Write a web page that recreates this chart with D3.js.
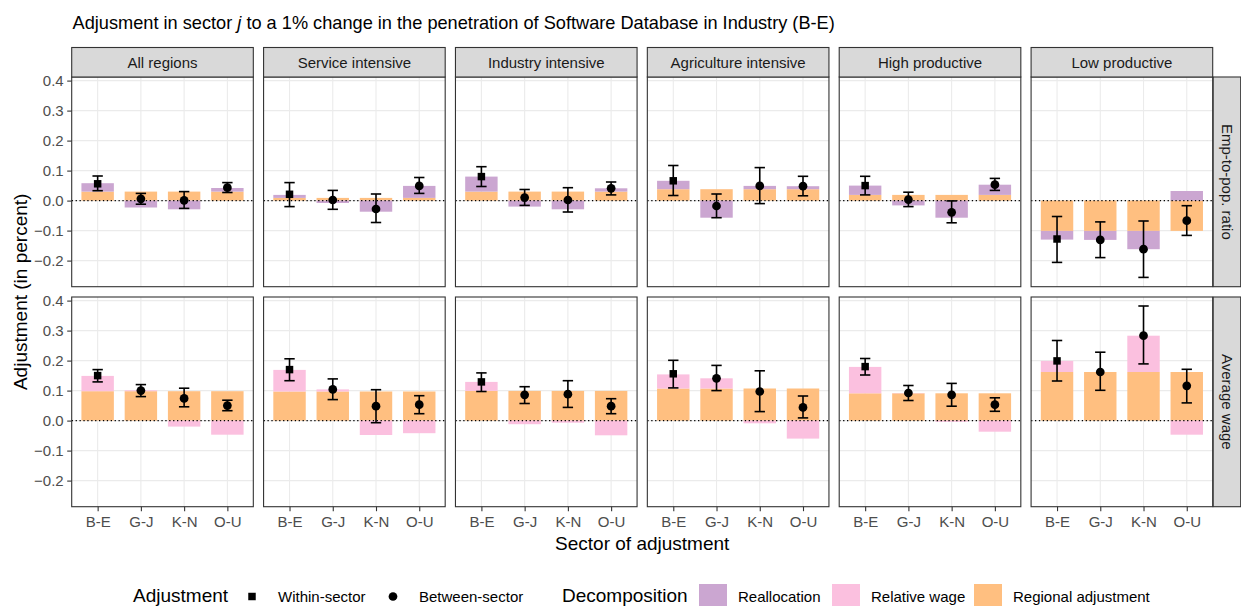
<!DOCTYPE html>
<html>
<head>
<meta charset="utf-8">
<script src="https://cdn.jsdelivr.net/npm/d3@7"></script>
<style>
  body { margin: 0; background: #fff; }
  svg { font-family: "Liberation Sans", Arial, sans-serif; }
</style>
</head>
<body>
<svg></svg>
<script>
// chart data
const regions = ['All regions', 'Service intensive', 'Industry intensive',
                 'Agriculture intensive', 'High productive', 'Low productive'];
const sectors = ['B-E', 'G-J', 'K-N', 'O-U'];
const measures = ['Emp-to-pop. ratio', 'Average wage'];
const yTicks = [-0.2, -0.1, 0.0, 0.1, 0.2, 0.3, 0.4];

// regional adjustment (same for every sector inside a region)
const empRegional = [0.030, 0.009, 0.030, 0.038, 0.019, -0.101];
const wageRegional = [0.098, 0.097, 0.099, 0.107, 0.091, 0.162];

// reallocation part (employment row)
const empRealloc = [
  [0.028, -0.023, -0.029, 0.012],
  [0.010, -0.008, -0.037, 0.040],
  [0.050, -0.020, -0.029, 0.011],
  [0.028, -0.057, 0.011, 0.010],
  [0.031, -0.016, -0.057, 0.034],
  [-0.029, -0.030, -0.061, 0.032]
];
// relative wage part (wage row)
const wageRelWage = [
  [0.051, 0.003, -0.020, -0.047],
  [0.072, 0.007, -0.048, -0.042],
  [0.030, -0.012, -0.007, -0.049],
  [0.047, 0.034, -0.009, -0.060],
  [0.088, 0.001, -0.004, -0.037],
  [0.037, 0.000, 0.121, -0.047]
];

// point estimates with confidence bounds
const empPoint = [
  [0.056, 0.006, 0.001, 0.043],
  [0.021, 0.002, -0.028, 0.049],
  [0.080, 0.010, 0.002, 0.041],
  [0.066, -0.018, 0.049, 0.048],
  [0.050, 0.003, -0.039, 0.053],
  [-0.128, -0.131, -0.162, -0.067]
];
const empLo = [
  [0.033, -0.012, -0.026, 0.027],
  [-0.020, -0.029, -0.073, 0.024],
  [0.047, -0.016, -0.038, 0.019],
  [0.017, -0.057, -0.010, 0.016],
  [0.019, -0.020, -0.074, 0.034],
  [-0.206, -0.190, -0.256, -0.116]
];
const empHi = [
  [0.082, 0.024, 0.030, 0.060],
  [0.060, 0.034, 0.022, 0.077],
  [0.113, 0.037, 0.043, 0.062],
  [0.117, 0.022, 0.110, 0.081],
  [0.081, 0.028, -0.001, 0.074],
  [-0.053, -0.071, -0.068, -0.017]
];
const wagePoint = [
  [0.150, 0.100, 0.074, 0.050],
  [0.170, 0.104, 0.048, 0.053],
  [0.129, 0.086, 0.088, 0.048],
  [0.156, 0.141, 0.097, 0.044],
  [0.180, 0.092, 0.086, 0.053],
  [0.199, 0.162, 0.283, 0.116]
];
const wageLo = [
  [0.129, 0.080, 0.046, 0.033],
  [0.133, 0.070, -0.007, 0.023],
  [0.097, 0.057, 0.044, 0.023],
  [0.109, 0.100, 0.030, 0.009],
  [0.152, 0.067, 0.048, 0.031],
  [0.132, 0.101, 0.189, 0.059]
];
const wageHi = [
  [0.170, 0.120, 0.108, 0.068],
  [0.206, 0.139, 0.103, 0.083],
  [0.159, 0.113, 0.133, 0.073],
  [0.201, 0.184, 0.166, 0.082],
  [0.207, 0.117, 0.124, 0.076],
  [0.267, 0.228, 0.382, 0.171]
];

const adjTypes = ['Within-sector', 'Between-sector'];
const decompNames = ['Reallocation', 'Relative wage', 'Regional adjustment'];
const decompColors = ['#CBA6D1', '#FBC0DF', '#FFBF80'];

// layout
const W = 1241, H = 606;
const panels = {l: 71.7, r: 1212.7, rowTop: [77, 297], h: 209.7};
const stripH = 29.5, stripW = 27.5;
const smallFont = 15, bigFont = 19;

const svg = d3.select('svg').attr('width', W).attr('height', H);

// build long tables from the arrays
let bars = [];
let points = [];
regions.forEach(function(reg, ri) {
  sectors.forEach(function(sec, si) {
    bars.push({row: 0, reg: ri, sec: sec, comp: 2, v: empRegional[ri]});
    bars.push({row: 0, reg: ri, sec: sec, comp: 0, v: empRealloc[ri][si]});
    bars.push({row: 1, reg: ri, sec: sec, comp: 2, v: wageRegional[ri]});
    bars.push({row: 1, reg: ri, sec: sec, comp: 1, v: wageRelWage[ri][si]});
    let type = si === 0 ? 0 : 1;  // B-E is the within-sector effect
    points.push({row: 0, reg: ri, sec: sec, type: type,
      v: empPoint[ri][si], lo: empLo[ri][si], hi: empHi[ri][si]});
    points.push({row: 1, reg: ri, sec: sec, type: type,
      v: wagePoint[ri][si], lo: wageLo[ri][si], hi: wageHi[ri][si]});
  });
});

// stack positive and negative parts separately, regional first
d3.group(bars, d => d.row + '|' + d.reg + '|' + d.sec).forEach(function(grp) {
  let pos = 0, neg = 0;
  grp.sort((a, b) => b.comp - a.comp).forEach(function(d) {
    if (d.v >= 0) { d.y0 = pos; d.y1 = pos + d.v; pos = d.y1; }
    else { d.y0 = neg; d.y1 = neg + d.v; neg = d.y1; }
  });
});

// scales
const colScale = d3.scaleBand().domain(d3.range(regions.length))
  .range([panels.l, panels.r]).paddingInner(0.0535);
const pw = colScale.bandwidth();
const x = d3.scalePoint().domain(sectors).range([0, pw]).padding(0.6);
const step = x.step();
const y = d3.scaleLinear().domain([-0.287, 0.412]).range([panels.h, 0]);
const fmt = d3.format('.1f');

// title
svg.append('text')
  .attr('x', 72.5).attr('y', 28.5)
  .attr('font-size', 18.2).attr('fill', '#000')
  .html('Adjusment in sector <tspan font-style="italic">j</tspan> to a 1% change in the penetration of Software Database in Industry (B-E)');

measures.forEach(function(m, row) {
  const top = panels.rowTop[row];
  regions.forEach(function(reg, ri) {
    const g = svg.append('g')
      .attr('transform', `translate(${colScale(ri)},${top})`);

    g.append('rect').attr('width', pw).attr('height', panels.h).attr('fill', '#fff');

    // grid
    g.selectAll('.gy').data(yTicks).enter().append('line')
      .attr('x1', 0).attr('x2', pw)
      .attr('y1', d => y(d)).attr('y2', d => y(d))
      .attr('stroke', '#EBEBEB').attr('stroke-width', 1.1);
    g.selectAll('.gx').data(sectors).enter().append('line')
      .attr('x1', d => x(d)).attr('x2', d => x(d))
      .attr('y1', 0).attr('y2', panels.h)
      .attr('stroke', '#EBEBEB').attr('stroke-width', 1.1);

    // bars
    const bw = step * 0.75;
    g.selectAll('.bar')
      .data(bars.filter(d => d.row === row && d.reg === ri && d.v !== 0))
      .enter().append('rect')
      .attr('x', d => x(d.sec) - bw / 2)
      .attr('width', bw)
      .attr('y', d => y(Math.max(d.y0, d.y1)))
      .attr('height', d => Math.abs(y(d.y0) - y(d.y1)))
      .attr('fill', d => decompColors[d.comp]);

    // zero line
    g.append('line')
      .attr('x1', 0).attr('x2', pw)
      .attr('y1', y(0)).attr('y2', y(0))
      .attr('stroke', '#000').attr('stroke-width', 1.3)
      .attr('stroke-dasharray', '1.3,2.6');

    // error bars
    const pts = points.filter(d => d.row === row && d.reg === ri);
    const cap = step * 0.24;
    const eb = g.selectAll('.eb').data(pts).enter().append('g')
      .attr('stroke', '#000').attr('stroke-width', 1.6);
    eb.append('line').attr('x1', d => x(d.sec)).attr('x2', d => x(d.sec))
      .attr('y1', d => y(d.lo)).attr('y2', d => y(d.hi));
    eb.append('line').attr('x1', d => x(d.sec) - cap / 2).attr('x2', d => x(d.sec) + cap / 2)
      .attr('y1', d => y(d.lo)).attr('y2', d => y(d.lo));
    eb.append('line').attr('x1', d => x(d.sec) - cap / 2).attr('x2', d => x(d.sec) + cap / 2)
      .attr('y1', d => y(d.hi)).attr('y2', d => y(d.hi));

    // markers
    g.selectAll('.pt').data(pts).enter().append('path')
      .attr('transform', d => `translate(${x(d.sec)},${y(d.v)})`)
      .attr('d', d => d.type === 0
        ? d3.symbol(d3.symbolSquare, 56)()
        : d3.symbol(d3.symbolCircle, 60)())
      .attr('fill', '#000');

    // border
    g.append('rect').attr('width', pw).attr('height', panels.h)
      .attr('fill', 'none').attr('stroke', '#333333').attr('stroke-width', 1.1);

    // x axis on bottom row
    if (row === 1) {
      const xa = g.append('g').attr('transform', `translate(0,${panels.h})`)
        .call(d3.axisBottom(x).tickSize(4.5).tickPadding(5.5));
      xa.select('.domain').remove();
      xa.selectAll('line').attr('stroke', '#333333').attr('stroke-width', 1.1);
      xa.selectAll('text').attr('font-size', smallFont).attr('fill', '#4D4D4D')
        .attr('font-family', '"Liberation Sans", Arial, sans-serif');
    }
    // y axis on first column
    if (ri === 0) {
      const ya = g.append('g')
        .call(d3.axisLeft(y).tickValues(yTicks).tickFormat(fmt).tickSize(4.5).tickPadding(3.5));
      ya.select('.domain').remove();
      ya.selectAll('line').attr('stroke', '#333333').attr('stroke-width', 1.1);
      ya.selectAll('text').attr('font-size', smallFont).attr('fill', '#4D4D4D')
        .attr('font-family', '"Liberation Sans", Arial, sans-serif');
    }
  });

  // right strip
  const sx = panels.r + 0.5;
  svg.append('rect')
    .attr('x', sx).attr('y', top)
    .attr('width', stripW).attr('height', panels.h)
    .attr('fill', '#D9D9D9').attr('stroke', '#333333').attr('stroke-width', 1.1);
  svg.append('text')
    .attr('transform', `translate(${sx + stripW / 2},${top + panels.h / 2}) rotate(90)`)
    .attr('text-anchor', 'middle').attr('dy', '0.35em')
    .attr('font-size', smallFont).attr('fill', '#1A1A1A')
    .text(m);
});

// top strips
regions.forEach(function(reg, ri) {
  svg.append('rect')
    .attr('x', colScale(ri)).attr('y', panels.rowTop[0] - stripH)
    .attr('width', pw).attr('height', stripH)
    .attr('fill', '#D9D9D9').attr('stroke', '#333333').attr('stroke-width', 1.1);
  svg.append('text')
    .attr('x', colScale(ri) + pw / 2).attr('y', panels.rowTop[0] - stripH / 2)
    .attr('text-anchor', 'middle').attr('dy', '0.35em')
    .attr('font-size', smallFont).attr('fill', '#1A1A1A')
    .text(reg);
});

// axis titles
svg.append('text')
  .attr('x', (panels.l + panels.r) / 2).attr('y', 550)
  .attr('text-anchor', 'middle').attr('font-size', bigFont).attr('fill', '#000')
  .text('Sector of adjustment');
svg.append('text')
  .attr('transform', `translate(27,${(panels.rowTop[0] + panels.rowTop[1] + panels.h) / 2}) rotate(-90)`)
  .attr('text-anchor', 'middle').attr('font-size', bigFont).attr('fill', '#000')
  .text('Adjustment (in percent)');

// legend
const legY = 596.5;
const leg = svg.append('g');
leg.append('text').attr('x', 133).attr('y', 601.5).attr('font-size', bigFont).text('Adjustment');
const adjKeys = [{x: 252, t: 'Within-sector'}, {x: 393, t: 'Between-sector'}];
adjKeys.forEach(function(k, i) {
  leg.append('path')
    .attr('transform', `translate(${k.x},${legY})`)
    .attr('d', i === 0 ? d3.symbol(d3.symbolSquare, 56)() : d3.symbol(d3.symbolCircle, 60)())
    .attr('fill', '#000');
  leg.append('text').attr('x', k.x + 26).attr('y', legY + 5.5)
    .attr('font-size', smallFont).text(adjTypes[i]);
});
leg.append('text').attr('x', 562).attr('y', 601.5).attr('font-size', bigFont).text('Decomposition');
const decKeys = [699, 832, 974];
decompNames.forEach(function(n, i) {
  leg.append('rect').attr('x', decKeys[i]).attr('y', 584)
    .attr('width', 28).attr('height', 28).attr('fill', decompColors[i]);
  leg.append('text').attr('x', decKeys[i] + 39).attr('y', legY + 5.5)
    .attr('font-size', smallFont).text(n);
});
</script>
</body>
</html>
